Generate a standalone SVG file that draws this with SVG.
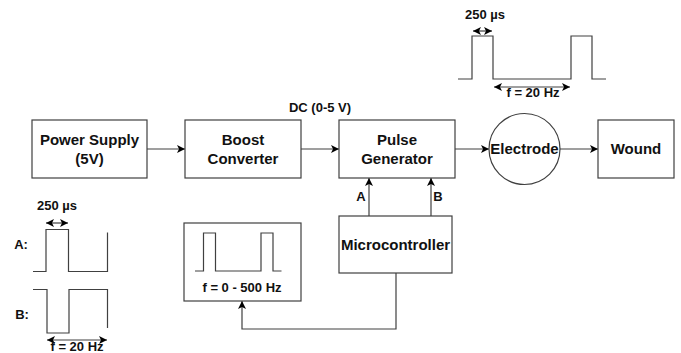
<svg xmlns="http://www.w3.org/2000/svg" width="681" height="353" viewBox="0 0 681 353">
<defs>
<marker id="arr" markerWidth="9" markerHeight="8" refX="8" refY="4" orient="auto-start-reverse" markerUnits="userSpaceOnUse">
<path d="M0,0 L8,4 L0,8 L2,4 z" fill="#000"/>
</marker>
<style>
.box{fill:#fff;stroke:#404040;stroke-width:1.2}
.ln{fill:none;stroke:#404040;stroke-width:1.2}
.wv{fill:none;stroke:#404040;stroke-width:1.2}
.t{font-family:"Liberation Sans",Arial,sans-serif;font-weight:bold;font-size:15px;fill:#111;text-anchor:middle}
.s{font-family:"Liberation Sans",Arial,sans-serif;font-weight:bold;font-size:13px;fill:#111;text-anchor:middle}
</style>
</defs>
<rect width="681" height="353" fill="#fff"/>
<g id="connectors">
<line class="ln" x1="147" y1="149" x2="185" y2="149" marker-end="url(#arr)"/>
<line class="ln" x1="301" y1="149" x2="339" y2="149" marker-end="url(#arr)"/>
<line class="ln" x1="455" y1="149" x2="489" y2="149" marker-end="url(#arr)"/>
<line class="ln" x1="560" y1="149" x2="598" y2="149" marker-end="url(#arr)"/>
<line class="ln" x1="369" y1="216" x2="369" y2="178" marker-end="url(#arr)"/>
<line class="ln" x1="431" y1="216" x2="431" y2="178" marker-end="url(#arr)"/>
<polyline class="ln" points="396,273 396,329 242,329 242,301" marker-end="url(#arr)"/>
<text class="s" x="320" y="112">DC (0-5 V)</text>
<text class="s" x="361" y="201">A</text>
<text class="s" x="438" y="201">B</text>
</g>
<g id="power-supply">
<rect class="box" x="32" y="120" width="115" height="58"/>
<text class="t" x="89.5" y="145">Power Supply</text>
<text class="t" x="89.5" y="164">(5V)</text>
</g>
<g id="boost-converter">
<rect class="box" x="185" y="120" width="116" height="58"/>
<text class="t" x="243" y="145">Boost</text>
<text class="t" x="243" y="164">Converter</text>
</g>
<g id="pulse-generator">
<rect class="box" x="339" y="120" width="116" height="58"/>
<text class="t" x="397" y="145">Pulse</text>
<text class="t" x="397" y="164">Generator</text>
</g>
<g id="electrode">
<circle class="box" cx="524.5" cy="149" r="35.5"/>
<text class="t" x="524.5" y="154">Electrode</text>
</g>
<g id="wound">
<rect class="box" x="598" y="120" width="76" height="58"/>
<text class="t" x="636" y="154">Wound</text>
</g>
<g id="microcontroller">
<rect class="box" x="339" y="216" width="113" height="57"/>
<text class="t" x="395.5" y="250">Microcontroller</text>
</g>
<g id="waveform-box">
<rect class="box" x="184" y="223" width="117" height="78"/>
<path class="wv" d="M195,271 H203.5 V233 H215.5 V271 H261 V233 H273 V271 H281.5"/>
<text class="s" x="242" y="292">f = 0 - 500 Hz</text>
</g>
<g id="output-waveform">
<path class="wv" d="M458,79 H472 V36 H493 V79 H571 V36 H592 V79 H606"/>
<text class="s" x="485" y="19">250 µs</text>
<line class="ln" x1="473" y1="31" x2="492" y2="31" marker-start="url(#arr)" marker-end="url(#arr)"/>
<line class="ln" x1="494" y1="87" x2="570" y2="87" marker-start="url(#arr)" marker-end="url(#arr)"/>
<text class="s" x="533" y="97">f = 20 Hz</text>
</g>
<g id="ab-waveforms">
<text class="s" x="57" y="210">250 µs</text>
<line class="ln" x1="46" y1="223" x2="68" y2="223" marker-start="url(#arr)" marker-end="url(#arr)"/>
<text class="s" x="21" y="249">A:</text>
<path class="wv" d="M33,271.5 H46 V229.5 H68.5 V271.5 H107.5 V232.5"/>
<text class="s" x="22" y="319">B:</text>
<path class="wv" d="M33,289.5 H47 V333 H69 V289.5 H107.5 V328"/>
<line class="ln" x1="47" y1="340" x2="107" y2="340" marker-start="url(#arr)" marker-end="url(#arr)"/>
<text class="s" x="77" y="351">f = 20 Hz</text>
</g>
</svg>
